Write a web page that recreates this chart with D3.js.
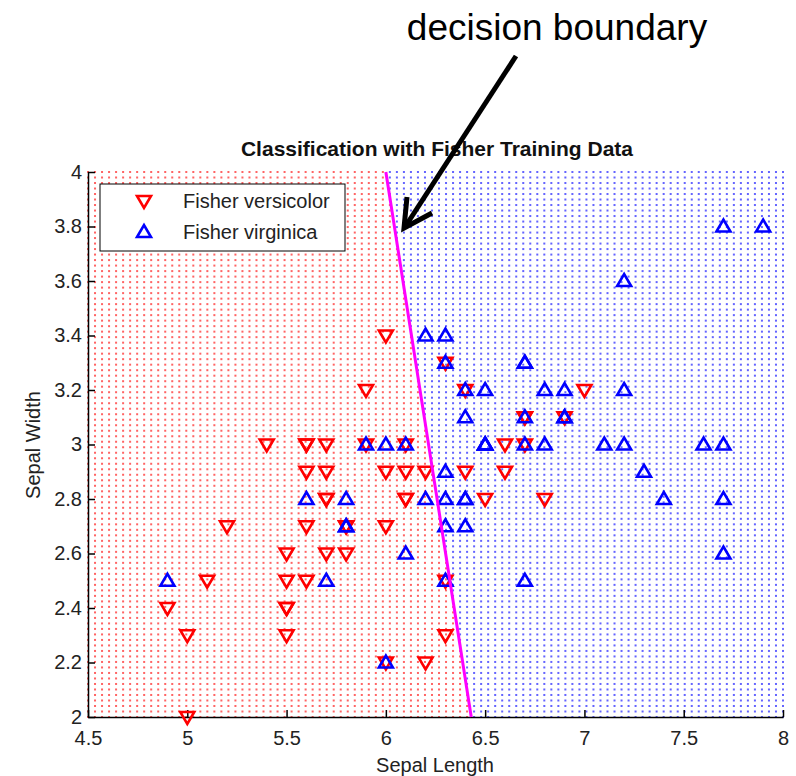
<!DOCTYPE html>
<html>
<head>
<meta charset="utf-8">
<script src="https://cdn.jsdelivr.net/npm/d3@7"></script>
<style>
  body { margin: 0; background: #fff; }
  text { font-family: Arial, "Liberation Sans", sans-serif; }
</style>
</head>
<body>
<div id="chart"></div>
<script>
// Fisher iris, versicolor and virginica: sepal length / width
var versicolorLength = [7.0,6.4,6.9,5.5,6.5,5.7,6.3,4.9,6.6,5.2,5.0,5.9,6.0,6.1,5.6,6.7,5.6,5.8,6.2,5.6,5.9,6.1,6.3,6.1,6.4,6.6,6.8,6.7,6.0,5.7,5.5,5.5,5.8,6.0,5.4,6.0,6.7,6.3,5.6,5.5,5.5,6.1,5.8,5.0,5.6,5.7,5.7,6.2,5.1,5.7]
var versicolorWidth  = [3.2,3.2,3.1,2.3,2.8,2.8,3.3,2.4,2.9,2.7,2.0,3.0,2.2,2.9,2.9,3.1,3.0,2.7,2.2,2.5,3.2,2.8,2.5,2.8,2.9,3.0,2.8,3.0,2.9,2.6,2.4,2.4,2.7,2.7,3.0,3.4,3.1,2.3,3.0,2.5,2.6,3.0,2.6,2.3,2.7,3.0,2.9,2.9,2.5,2.8]
var virginicaLength  = [6.3,5.8,7.1,6.3,6.5,7.6,4.9,7.3,6.7,7.2,6.5,6.4,6.8,5.7,5.8,6.4,6.5,7.7,7.7,6.0,6.9,5.6,7.7,6.3,6.7,7.2,6.2,6.1,6.4,7.2,7.4,7.9,6.4,6.3,6.1,7.7,6.3,6.4,6.0,6.9,6.7,6.9,5.8,6.8,6.7,6.7,6.3,6.5,6.2,5.9]
var virginicaWidth   = [3.3,2.7,3.0,2.9,3.0,3.0,2.5,2.9,2.5,3.6,3.2,2.7,3.0,2.5,2.8,3.2,3.0,3.8,2.6,2.2,3.2,2.8,2.8,2.7,3.3,3.2,2.8,3.0,2.8,3.0,2.8,3.8,2.8,2.8,2.6,3.0,3.4,3.1,3.0,3.1,3.1,3.1,2.7,3.2,3.3,3.0,2.5,3.0,3.4,3.0]

var groups = ["Fisher versicolor", "Fisher virginica"]
var groupColors = ["#ff0000", "#0000ff"]

// linear decision boundary (sepal length at width 4 and at width 2)
var boundaryLength = [6.0, 6.43]
var boundaryWidth = [4, 2]

var xTicks = [4.5, 5, 5.5, 6, 6.5, 7, 7.5, 8]
var yTicks = [2, 2.2, 2.4, 2.6, 2.8, 3, 3.2, 3.4, 3.6, 3.8, 4]

var margin = {left: 88, top: 172, right: 13, bottom: 59}
var W = 796, H = 776

var svg = d3.select("#chart")
    .append("svg")
    .attr("width", W)
    .attr("height", H)

var x = d3.scaleLinear().domain([4.5, 8]).range([margin.left, W - margin.right])
var y = d3.scaleLinear().domain([2, 4]).range([H - margin.bottom, margin.top])

// classification grid, linspace(4.5,8) x linspace(2,4)
var gridX = d3.range(100).map(function (i) { return 4.5 + i * 3.5 / 99 })
var gridY = d3.range(100).map(function (i) { return 2 + i * 2 / 99 })
var grid = []
gridX.forEach(function (gx) {
    gridY.forEach(function (gy) {
        var bx = boundaryLength[0] + (gy - boundaryWidth[0]) * (boundaryLength[1] - boundaryLength[0]) / (boundaryWidth[1] - boundaryWidth[0])
        grid.push({x: gx, y: gy, g: gx < bx ? 0 : 1})
    })
})

var gridGroup = svg.append("g").attr("class", "grid")
gridGroup.selectAll("rect")
    .data(grid)
    .enter()
    .append("rect")
    .attr("x", function (d) { return x(d.x) - 1 })
    .attr("y", function (d) { return y(d.y) - 1 })
    .attr("width", 2)
    .attr("height", 2)
    .style("fill", function (d) { return d.g == 0 ? "#ff3030" : "#3030ff" })
    .style("opacity", 0.75)

// axes (ticks point inward)
var xAxis = d3.axisBottom(x).tickValues(xTicks).tickSizeInner(-7).tickSizeOuter(0).tickPadding(14)
    .tickFormat(function (d) { return d3.format("")(d) })
var yAxis = d3.axisLeft(y).tickValues(yTicks).tickSizeInner(-7).tickSizeOuter(0).tickPadding(6)
    .tickFormat(function (d) { return d3.format("")(d) })

var gx = svg.append("g")
    .attr("transform", "translate(0," + (H - margin.bottom) + ")")
    .call(xAxis)
var gy = svg.append("g")
    .attr("transform", "translate(" + margin.left + ",0)")
    .call(yAxis)
svg.selectAll(".domain").style("stroke", "#000").style("stroke-width", 1.5)
svg.selectAll(".tick line").style("stroke", "#000").style("stroke-width", 1.5)
svg.selectAll(".tick text").style("font-size", "20px").style("fill", "#222")
    .style("font-family", "Arial, 'Liberation Sans', sans-serif")
gx.selectAll(".tick text").attr("dy", "0.71em")

// markers
function triDown(cx, cy) {
    return "M" + (cx - 7) + "," + (cy - 5) + "L" + (cx + 7) + "," + (cy - 5) + "L" + cx + "," + (cy + 7) + "Z"
}
function triUp(cx, cy) {
    return "M" + (cx - 7) + "," + (cy + 5) + "L" + (cx + 7) + "," + (cy + 5) + "L" + cx + "," + (cy - 7) + "Z"
}

var versicolor = versicolorLength.map(function (v, i) { return {x: v, y: versicolorWidth[i]} })
var virginica = virginicaLength.map(function (v, i) { return {x: v, y: virginicaWidth[i]} })

svg.append("g").attr("class", "versicolor")
    .selectAll("path")
    .data(versicolor)
    .enter()
    .append("path")
    .attr("d", function (d) { return triDown(x(d.x), y(d.y)) })
    .style("fill", "none")
    .style("stroke", groupColors[0])
    .style("stroke-width", 2.6)

svg.append("g").attr("class", "virginica")
    .selectAll("path")
    .data(virginica)
    .enter()
    .append("path")
    .attr("d", function (d) { return triUp(x(d.x), y(d.y)) })
    .style("fill", "none")
    .style("stroke", groupColors[1])
    .style("stroke-width", 2.6)

// decision boundary
svg.append("line")
    .attr("x1", x(boundaryLength[0])).attr("y1", y(boundaryWidth[0]))
    .attr("x2", x(boundaryLength[1])).attr("y2", y(boundaryWidth[1]))
    .style("stroke", "#ff00ff")
    .style("stroke-width", 3)

// legend
var legend = svg.append("g").attr("class", "legend")
legend.append("rect")
    .attr("x", 100).attr("y", 184)
    .attr("width", 245).attr("height", 67)
    .style("fill", "#fff")
    .style("stroke", "#000")
    .style("stroke-width", 1)
legend.selectAll("path")
    .data(groups)
    .enter()
    .append("path")
    .attr("d", function (d, i) { return i == 0 ? triDown(144, 201) : triUp(144, 232) })
    .style("fill", "none")
    .style("stroke", function (d, i) { return groupColors[i] })
    .style("stroke-width", 2.6)
legend.selectAll("text")
    .data(groups)
    .enter()
    .append("text")
    .attr("x", 183)
    .attr("y", function (d, i) { return 208 + i * 31 })
    .style("font-size", "20px")
    .style("fill", "#222")
    .text(function (d) { return d })

// title and labels
svg.append("text")
    .attr("x", 437).attr("y", 156)
    .attr("text-anchor", "middle")
    .style("font-size", "21px")
    .style("font-weight", "bold")
    .style("fill", "#111")
    .text("Classification with Fisher Training Data")

svg.append("text")
    .attr("x", 435).attr("y", 772)
    .attr("text-anchor", "middle")
    .style("font-size", "20px")
    .style("fill", "#222")
    .text("Sepal Length")

svg.append("text")
    .attr("transform", "translate(40,445) rotate(-90)")
    .attr("text-anchor", "middle")
    .style("font-size", "20px")
    .style("fill", "#222")
    .text("Sepal Width")

// annotation
svg.append("text")
    .attr("x", 557).attr("y", 40)
    .attr("text-anchor", "middle")
    .style("font-size", "37px")
    .style("fill", "#000")
    .text("decision boundary")

var arrow = svg.append("g").attr("class", "arrow")
    .style("stroke", "#000").style("stroke-width", 5).style("fill", "none")
    .style("stroke-linecap", "butt")
arrow.append("line").attr("x1", 516).attr("y1", 56).attr("x2", 405).attr("y2", 227)
arrow.append("polyline").attr("points", "407,197 404,228 432,213")
</script>
</body>
</html>
